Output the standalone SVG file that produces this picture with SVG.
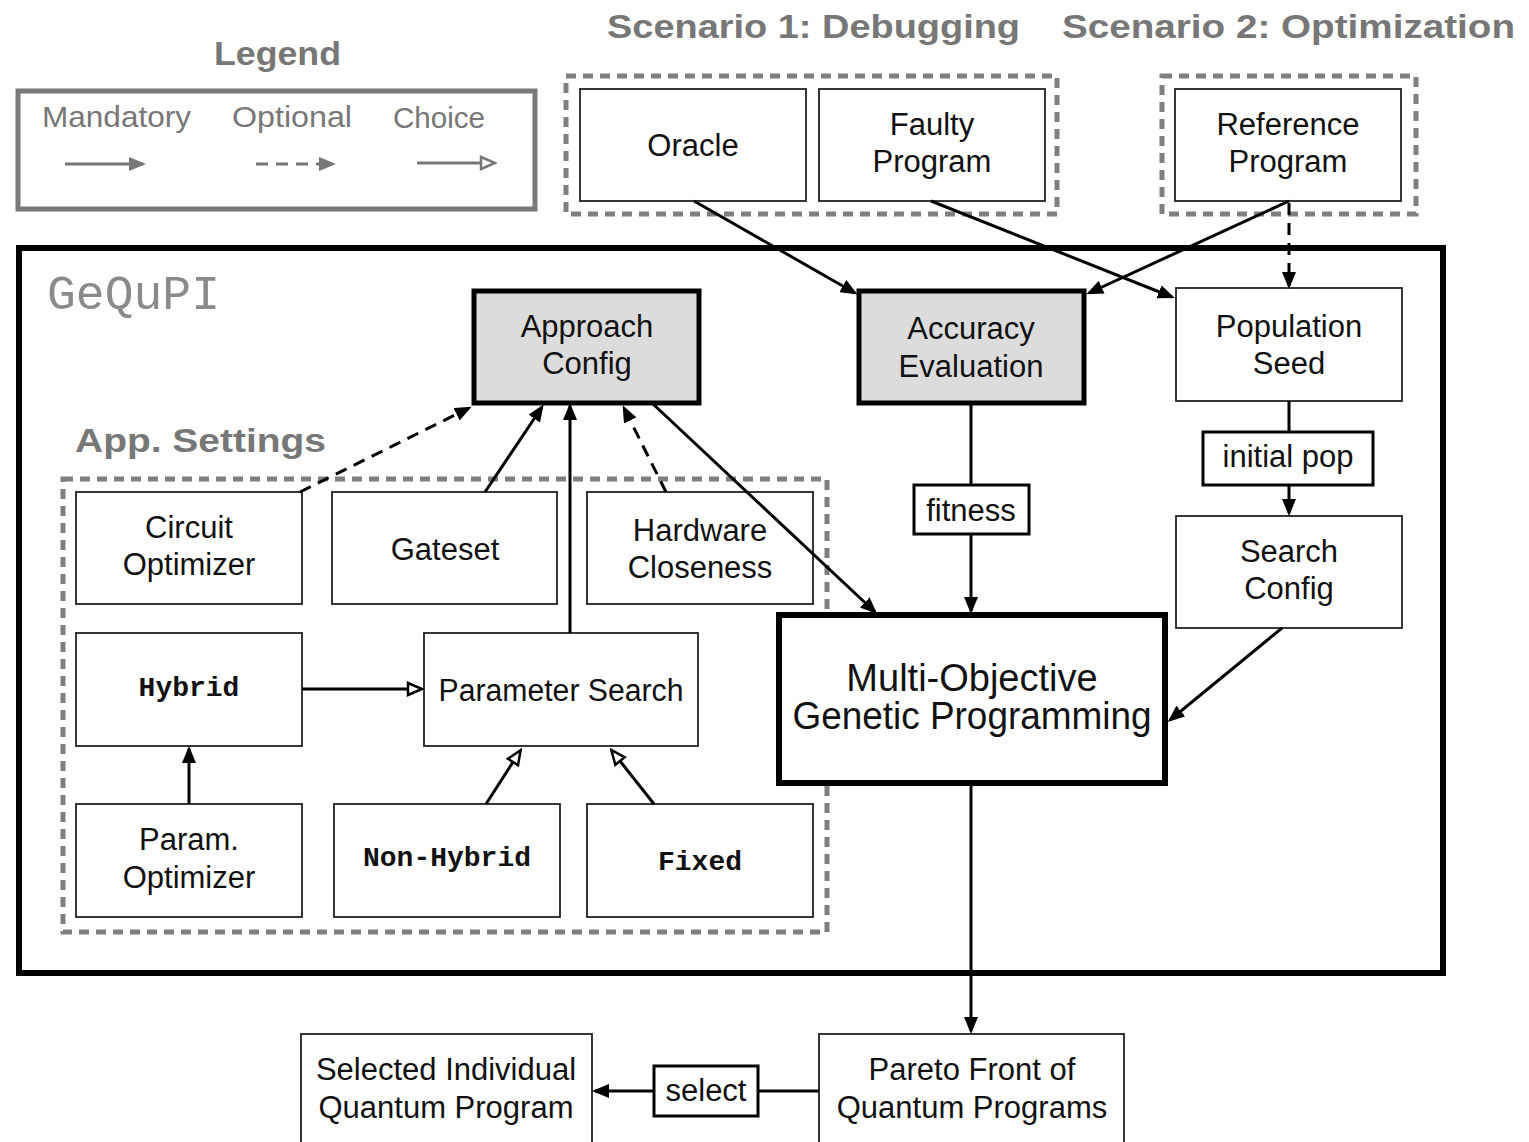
<svg xmlns="http://www.w3.org/2000/svg" width="1529" height="1142" viewBox="0 0 1529 1142">
<style>
  .bg { fill: #ffffff; }
  .node { fill: #ffffff; stroke: #222; stroke-width: 1.8; }
  .key { fill: #dcdcdc; stroke: #000; stroke-width: 5; }
  .big { fill: #ffffff; stroke: #000; stroke-width: 6; }
  .lbl { fill: #ffffff; stroke: #000; stroke-width: 3; }
  .t { font-family: "Liberation Sans", Arial, sans-serif; font-size: 31px; fill: #111; text-anchor: middle; }
  .tl { font-family: "Liberation Sans", Arial, sans-serif; font-size: 38px; fill: #111; text-anchor: middle; }
  .mono { font-family: "Liberation Mono", "Courier New", monospace; font-size: 28px; font-weight: bold; fill: #111; text-anchor: middle; }
  .title { font-family: "Liberation Sans", Arial, sans-serif; font-size: 34px; font-weight: bold; fill: #777; }
  .leg { font-family: "Liberation Sans", Arial, sans-serif; font-size: 30px; fill: #777; }
  .dashbox { fill: none; stroke: #7f7f7f; stroke-width: 5; stroke-dasharray: 10 7; }
  .c { fill: none; stroke: #000; stroke-width: 3; }
  .opt { stroke-dasharray: 12 8; }
  .arr { marker-end: url(#ah); }
  .tri { marker-end: url(#oh); }
</style>
<defs>
  <marker id="ah" markerUnits="userSpaceOnUse" markerWidth="18" markerHeight="14" refX="14" refY="7" orient="auto">
    <path d="M0,0 L17,7 L0,14 z" fill="#000"/>
  </marker>
  <marker id="oh" markerUnits="userSpaceOnUse" markerWidth="18" markerHeight="16" refX="2" refY="8" orient="auto">
    <path d="M2,2 L16,8 L2,14 z" fill="#fff" stroke="#000" stroke-width="2.5"/>
  </marker>
  <marker id="gah" markerUnits="userSpaceOnUse" markerWidth="18" markerHeight="14" refX="14" refY="7" orient="auto">
    <path d="M0,0 L17,7 L0,14 z" fill="#777"/>
  </marker>
  <marker id="goh" markerUnits="userSpaceOnUse" markerWidth="18" markerHeight="16" refX="2" refY="8" orient="auto">
    <path d="M2,2 L16,8 L2,14 z" fill="#fff" stroke="#777" stroke-width="2.5"/>
  </marker>
</defs>
<rect class="bg" x="0" y="0" width="1529" height="1142"/>

<!-- Legend -->
<g id="legend">
  <text class="title" x="214" y="65" textLength="127" lengthAdjust="spacingAndGlyphs">Legend</text>
  <rect x="18" y="91" width="517" height="118" fill="none" stroke="#7a7a7a" stroke-width="5"/>
  <text class="leg" x="42" y="127" textLength="149" lengthAdjust="spacingAndGlyphs">Mandatory</text>
  <text class="leg" x="232" y="127" textLength="120" lengthAdjust="spacingAndGlyphs">Optional</text>
  <text class="leg" x="393" y="128" textLength="92" lengthAdjust="spacingAndGlyphs">Choice</text>
  <line x1="65" y1="164" x2="143" y2="164" stroke="#777" stroke-width="3" marker-end="url(#gah)"/>
  <line x1="256" y1="164" x2="333" y2="164" stroke="#777" stroke-width="3" stroke-dasharray="12 8" marker-end="url(#gah)"/>
  <line x1="417" y1="163" x2="481" y2="163" stroke="#777" stroke-width="3" marker-end="url(#goh)"/>
</g>

<!-- Scenario titles and groups -->
<g id="scenario1">
  <text class="title" x="607" y="38" textLength="413" lengthAdjust="spacingAndGlyphs">Scenario 1: Debugging</text>
  <rect class="dashbox" x="566" y="76" width="491" height="138"/>
</g>
<g id="scenario2">
  <text class="title" x="1062" y="38" textLength="453" lengthAdjust="spacingAndGlyphs">Scenario 2: Optimization</text>
  <rect class="dashbox" x="1162" y="76" width="254" height="138"/>
</g>

<!-- GeQuPI frame -->
<g id="gequpi">
  <rect x="19" y="248" width="1424" height="725" fill="none" stroke="#000" stroke-width="6"/>
  <text x="47" y="309" font-family="Liberation Mono, 'Courier New', monospace" font-size="48" fill="#8a8a8a" textLength="173" lengthAdjust="spacingAndGlyphs">GeQuPI</text>
</g>

<!-- App Settings frame -->
<g id="app-settings">
  <text class="title" x="75" y="452" textLength="251" lengthAdjust="spacingAndGlyphs">App. Settings</text>
  <rect class="dashbox" x="63" y="479" width="764" height="453"/>
</g>

<!-- Nodes -->
<g id="oracle">
  <rect class="node" x="580" y="89" width="226" height="112"/>
  <text class="t" x="693" y="156">Oracle</text>
</g>
<g id="faulty-program">
  <rect class="node" x="819" y="89" width="226" height="112"/>
  <text class="t" x="932" y="135">Faulty</text>
  <text class="t" x="932" y="172">Program</text>
</g>
<g id="reference-program">
  <rect class="node" x="1175" y="89" width="226" height="112"/>
  <text class="t" x="1288" y="135">Reference</text>
  <text class="t" x="1288" y="172">Program</text>
</g>
<g id="approach-config">
  <rect class="key" x="474" y="291" width="225" height="112"/>
  <text class="t" x="587" y="337">Approach</text>
  <text class="t" x="587" y="374">Config</text>
</g>
<g id="accuracy-evaluation">
  <rect class="key" x="859" y="291" width="225" height="112"/>
  <text class="t" x="971" y="339">Accuracy</text>
  <text class="t" x="971" y="377">Evaluation</text>
</g>
<g id="population-seed">
  <rect class="node" x="1176" y="288" width="226" height="113"/>
  <text class="t" x="1289" y="337">Population</text>
  <text class="t" x="1289" y="374">Seed</text>
</g>
<g id="search-config">
  <rect class="node" x="1176" y="516" width="226" height="112"/>
  <text class="t" x="1289" y="562">Search</text>
  <text class="t" x="1289" y="599">Config</text>
</g>
<g id="mogp">
  <rect class="big" x="779" y="615" width="386" height="168"/>
  <text class="tl" x="972" y="691">Multi-Objective</text>
  <text class="tl" x="972" y="729" textLength="359" lengthAdjust="spacingAndGlyphs">Genetic Programming</text>
</g>
<g id="circuit-optimizer">
  <rect class="node" x="76" y="492" width="226" height="112"/>
  <text class="t" x="189" y="538">Circuit</text>
  <text class="t" x="189" y="575">Optimizer</text>
</g>
<g id="gateset">
  <rect class="node" x="332" y="492" width="225" height="112"/>
  <text class="t" x="445" y="560">Gateset</text>
</g>
<g id="hardware-closeness">
  <rect class="node" x="587" y="492" width="226" height="112"/>
  <text class="t" x="700" y="541">Hardware</text>
  <text class="t" x="700" y="578">Closeness</text>
</g>
<g id="hybrid">
  <rect class="node" x="76" y="633" width="226" height="113"/>
  <text class="mono" x="189" y="696">Hybrid</text>
</g>
<g id="parameter-search">
  <rect class="node" x="424" y="633" width="274" height="113"/>
  <text class="t" x="561" y="701" textLength="245" lengthAdjust="spacingAndGlyphs">Parameter Search</text>
</g>
<g id="param-optimizer">
  <rect class="node" x="76" y="804" width="226" height="113"/>
  <text class="t" x="189" y="850">Param.</text>
  <text class="t" x="189" y="888">Optimizer</text>
</g>
<g id="non-hybrid">
  <rect class="node" x="334" y="804" width="226" height="113"/>
  <text class="mono" x="447" y="866">Non-Hybrid</text>
</g>
<g id="fixed">
  <rect class="node" x="587" y="804" width="226" height="113"/>
  <text class="mono" x="700" y="870">Fixed</text>
</g>
<g id="selected-individual">
  <rect class="node" x="301" y="1034" width="291" height="120"/>
  <text class="t" x="446" y="1080">Selected Individual</text>
  <text class="t" x="446" y="1118">Quantum Program</text>
</g>
<g id="pareto-front">
  <rect class="node" x="819" y="1034" width="305" height="120"/>
  <text class="t" x="972" y="1080">Pareto Front of</text>
  <text class="t" x="972" y="1118">Quantum Programs</text>
</g>

<!-- Connectors -->
<g id="connectors">
  <line class="c arr" x1="694" y1="201" x2="855" y2="293"/>
  <line class="c arr" x1="931" y1="201" x2="1172" y2="297"/>
  <line class="c arr" x1="1289" y1="201" x2="1089" y2="293"/>
  <line class="c opt arr" x1="1289" y1="203" x2="1289" y2="286"/>
  <line class="c opt arr" x1="300" y1="492" x2="469" y2="408"/>
  <line class="c arr" x1="485" y1="492" x2="542" y2="407"/>
  <line class="c arr" x1="570" y1="633" x2="570" y2="406"/>
  <line class="c opt arr" x1="666" y1="492" x2="624" y2="408"/>
  <line class="c arr" x1="653" y1="404" x2="875" y2="612"/>
  <line class="c" x1="971" y1="403" x2="971" y2="485"/>
  <line class="c arr" x1="971" y1="534" x2="971" y2="611"/>
  <line class="c" x1="1289" y1="401" x2="1289" y2="432"/>
  <line class="c arr" x1="1289" y1="485" x2="1289" y2="513"/>
  <line class="c arr" x1="1282" y1="628" x2="1170" y2="720"/>
  <line class="c arr" x1="971" y1="784" x2="971" y2="1031"/>
  <line class="c" x1="819" y1="1091" x2="758" y2="1091"/>
  <line class="c arr" x1="654" y1="1091" x2="595" y2="1091"/>
  <line class="c tri" x1="302" y1="689" x2="408" y2="689"/>
  <line class="c arr" x1="189" y1="804" x2="189" y2="749"/>
  <line class="c tri" x1="486" y1="804" x2="513" y2="762"/>
  <line class="c tri" x1="654" y1="804" x2="620" y2="761"/>
</g>

<!-- Edge labels -->
<g id="label-fitness">
  <rect class="lbl" x="914" y="485" width="115" height="49"/>
  <text class="t" x="971" y="521">fitness</text>
</g>
<g id="label-initial-pop">
  <rect class="lbl" x="1203" y="432" width="170" height="53"/>
  <text class="t" x="1288" y="467">initial pop</text>
</g>
<g id="label-select">
  <rect class="lbl" x="654" y="1066" width="104" height="50"/>
  <text class="t" x="706" y="1101">select</text>
</g>
</svg>
